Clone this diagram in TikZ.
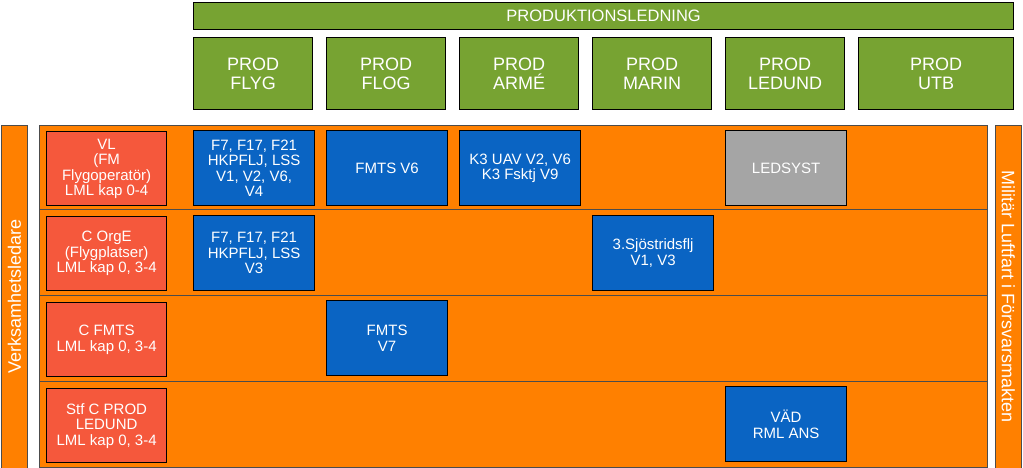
\documentclass[tikz,border=0pt]{standalone}
\usepackage{fontspec}
\setmainfont{Liberation Sans}
\definecolor{grn}{RGB}{119,163,50}
\definecolor{org}{RGB}{255,128,0}
\definecolor{rd}{RGB}{245,88,60}
\definecolor{bl}{RGB}{10,100,195}
\definecolor{gr}{RGB}{165,165,165}
\begin{document}
\begin{tikzpicture}[x=1pt,y=-1pt,
 bx/.style={draw=black,line width=1.3pt,text=white,align=center,font=\fontsize{15}{15.5}\selectfont,inner sep=0pt},
 gbox/.style={bx,fill=grn},
 rbox/.style={bx,fill=rd},
 bbox/.style={bx,fill=bl},
 obox/.style={draw=black!70,line width=0.8pt,fill=org}]
\useasboundingbox (0,0) rectangle (1023,468);
\node[gbox,minimum width=820,minimum height=27,anchor=north west,font=\fontsize{16.5}{18}\selectfont] (top) at (193,2) {PRODUKTIONSLEDNING};
\foreach \x/\t/\n in {193/FLYG/p1,326/FLOG/p2,459/ARMÉ/p3,592/MARIN/p4,725/LEDUND/p5}
  \node[gbox,minimum width=119,minimum height=72,anchor=north west,font=\fontsize{18}{18.5}\selectfont] (\n) at (\x,37) {PROD\\\t};
\node[gbox,minimum width=155,minimum height=72,anchor=north west,font=\fontsize{18}{18.5}\selectfont] (p6) at (858,37) {PROD\\UTB};
\node[obox,minimum width=26,minimum height=343,anchor=north west] (vl) at (1,125) {};
\node[rotate=90,text=white,font=\fontsize{18}{20}\selectfont] (vlt) at (vl.center) {Verksamhetsledare};
\node[obox,minimum width=26,minimum height=343,anchor=north west] (ml) at (995,125) {};
\node[rotate=-90,text=white,font=\fontsize{18}{20}\selectfont] (mlt) at (ml.center) {Militär Luftfart i Försvarsmakten};
\foreach \y/\n in {125/r1,209/r2,295/r3,381/r4}
  \node[obox,minimum width=948,minimum height=86,anchor=north west] (\n) at (39,\y) {};
\node[rbox,minimum width=120,minimum height=74,anchor=north west] (a1) at (46,131) {VL\\(FM\\Flygoperatör)\\LML kap 0-4};
\node[rbox,minimum width=120,minimum height=74,anchor=north west] (a2) at (46,216) {C OrgE\\(Flygplatser)\\LML kap 0, 3-4};
\node[rbox,minimum width=120,minimum height=74,anchor=north west] (a3) at (46,302) {C FMTS\\LML kap 0, 3-4};
\node[rbox,minimum width=120,minimum height=74,anchor=north west] (a4) at (46,388) {Stf C PROD\\LEDUND\\LML kap 0, 3-4};
\tikzset{bb/.style={bbox,minimum width=121,minimum height=75,anchor=north west}}
\node[bb] (b1) at (193,130) {F7, F17, F21\\HKPFLJ, LSS\\V1, V2, V6,\\V4};
\node[bb] (b2) at (326,130) {FMTS V6};
\node[bb] (b3) at (459,130) {K3 UAV V2, V6\\K3 Fsktj V9};
\node[bb,fill=gr] (b4) at (725,130) {LEDSYST};
\node[bb] (b5) at (193,215) {F7, F17, F21\\HKPFLJ, LSS\\V3};
\node[bb] (b6) at (592,215) {3.Sjöstridsflj\\V1, V3};
\node[bb] (b7) at (326,300) {FMTS\\V7};
\node[bb] (b8) at (725,386) {VÄD\\RML ANS};
\end{tikzpicture}
\end{document}
